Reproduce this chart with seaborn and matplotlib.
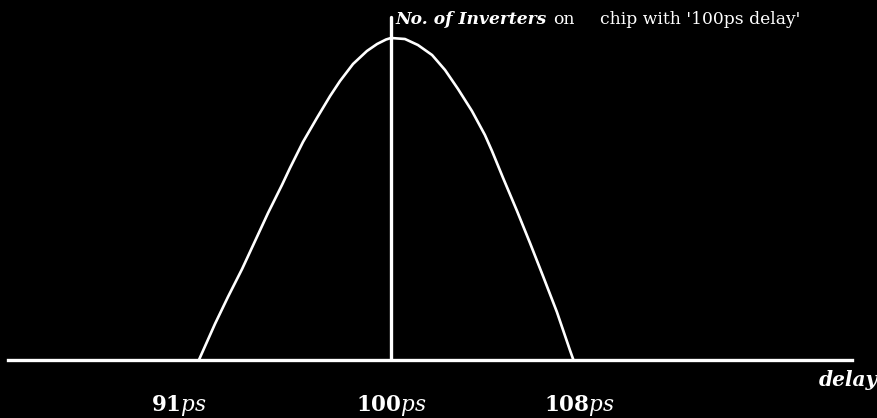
import numpy as np
import pandas as pd
import matplotlib.pyplot as plt
import seaborn as sns

# delay (ps) vs number of inverters
delay_ps = [91.86, 92.54, 93.09, 93.69, 94.24, 94.79, 95.38, 95.72, 96.27, 96.86,
            97.42, 97.84, 98.39, 98.98, 99.41, 99.79, 100.00,
            100.59, 101.14, 101.74, 102.29, 102.84, 103.43, 103.98, 104.28,
            104.75, 105.34, 105.89, 106.44, 107.03, 107.58, 107.73]
inverters = [0, 36, 63, 91, 119, 147, 175, 192, 218, 242,
             264, 279, 296, 309, 316, 320.5, 322,
             321, 315, 305, 290, 271, 249, 225, 209,
             182, 149, 117, 84, 48, 10, 0]
tick_vals = [91, 100, 108]
tick_labels = [r"$\mathbf{91}\mathit{ps}$", r"$\mathbf{100}\mathit{ps}$", r"$\mathbf{108}\mathit{ps}$"]

df = pd.DataFrame({"delay": delay_ps, "count": inverters})

sns.set_theme(style="dark")
plt.rcParams["mathtext.fontset"] = "dejavuserif"
plt.rcParams["font.family"] = ["DejaVu Serif"]

W, H = 878, 418
fig = plt.figure(figsize=(W / 100, H / 100), dpi=100, facecolor="black")
ax = fig.add_axes([8 / W, 58 / H, (852 - 8) / W, 1 - 58 / H])
ax.set_facecolor("black")

sns.lineplot(data=df, x="delay", y="count", ax=ax, color="white", lw=1.9, sort=False)
ax.axvline(100, ymin=0, ymax=(360 - 17) / 360, color="white", lw=2.4)

ax.set_xlim(100 - 383 / 23.6, 100 + 461 / 23.6)
ax.set_ylim(0, 360)
for s in ["top", "right", "left"]:
    ax.spines[s].set_visible(False)
ax.spines["bottom"].set_color("white")
ax.spines["bottom"].set_linewidth(2.4)
ax.set_yticks([])
ax.set_xticks(tick_vals)
ax.set_xticklabels(tick_labels, color="white", fontsize=15.5)
ax.tick_params(axis="x", length=0, pad=24)
ax.set_xlabel("")
ax.set_ylabel("")
ax.grid(False)

fig.text(819 / W, 1 - 380 / H, "delay", color="white", fontsize=14.5,
         fontweight="bold", fontstyle="italic", ha="left", va="center")

ty = 1 - 19 / H
fig.text(395 / W, ty, "No. of Inverters", color="white", fontsize=12.3,
         fontweight="bold", fontstyle="italic", ha="left", va="center")
fig.text(553 / W, ty, "on", color="white", fontsize=12.3, ha="left", va="center")
fig.text(600 / W, ty, "chip with '100ps delay'", color="white", fontsize=12.3,
         ha="left", va="center")

fig.savefig("out.png", dpi=100, facecolor="black")
